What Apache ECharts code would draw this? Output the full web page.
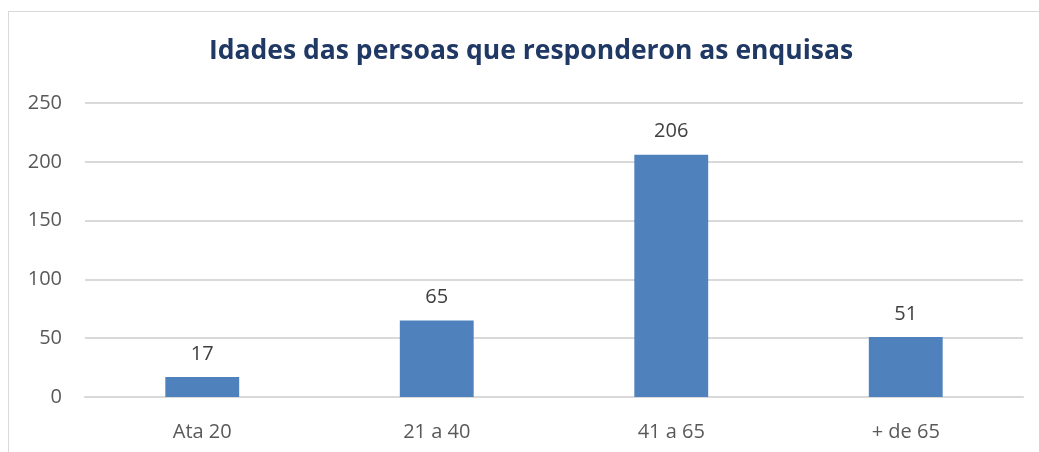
<!DOCTYPE html>
<html><head><meta charset="utf-8">
<script src="https://cdn.jsdelivr.net/npm/echarts@6/dist/echarts.min.js"></script>
<style>
html,body{margin:0;padding:0;background:#fff;overflow:hidden}
#frame{position:absolute;left:8px;top:11px;width:1100px;height:500px;border:1px solid #D9D9D9;box-sizing:border-box}
#main{position:absolute;left:0;top:0;width:1039px;height:452px}
</style></head>
<body>
<div id="frame"></div>
<div id="main"></div>
<script>
var titleText = 'Idades das persoas que responderon as enquisas';
var categories = ['Ata 20', '21 a 40', '41 a 65', '+ de 65'];
var values = [17, 65, 206, 51];
var yTicks = {min: 0, max: 250, interval: 50};

var chart = echarts.init(document.getElementById('main'));
chart.setOption({
  animation: false,
  title: {
    text: titleText, left: 204, top: 33,
    textStyle: {fontFamily: 'Open Sans', fontWeight: 'bold', fontSize: 26.5, color: '#203864'}
  },
  grid: {left: 85, right: 16, top: 103, bottom: 55, containLabel: false},
  xAxis: {
    type: 'category', data: categories,
    axisLine: {lineStyle: {color: '#D9D9D9', width: 2}},
    axisTick: {show: false},
    axisLabel: {color: '#595959', fontFamily: 'Open Sans', fontSize: 20, margin: 25}
  },
  yAxis: {
    type: 'value', min: yTicks.min, max: yTicks.max, interval: yTicks.interval,
    axisLine: {show: false}, axisTick: {show: false},
    splitLine: {lineStyle: {color: '#D9D9D9', width: 2}},
    axisLabel: {color: '#595959', fontFamily: 'Open Sans', fontSize: 20, margin: 23}
  },
  series: [{
    type: 'bar', data: values, barWidth: '31.5%',
    itemStyle: {color: '#4F81BD'},
    label: {show: true, position: 'top', distance: 13, color: '#404040', fontFamily: 'Open Sans', fontSize: 20}
  }]
});
</script>
</body></html>
